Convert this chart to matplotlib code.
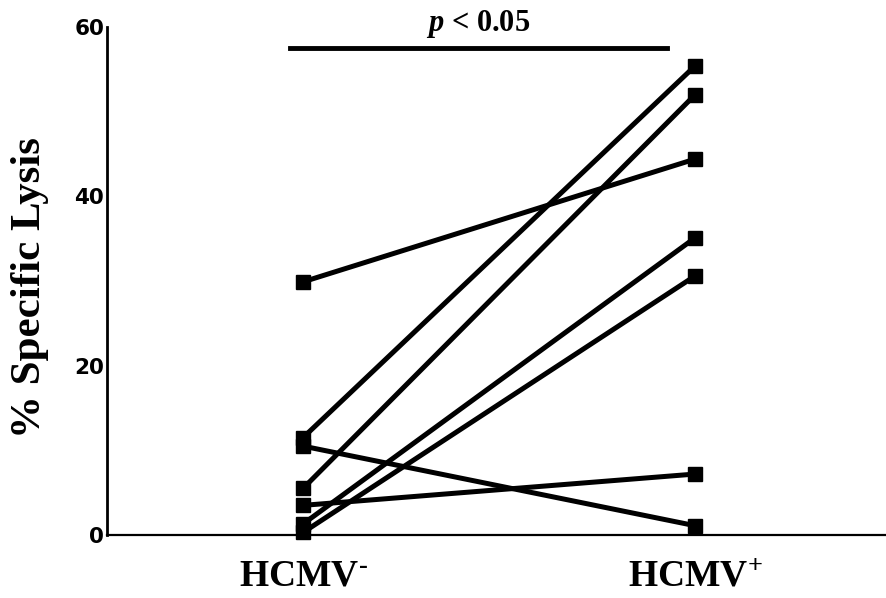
import matplotlib.pyplot as plt

plt.rcParams['mathtext.fontset'] = 'custom'
plt.rcParams['mathtext.rm'] = 'Liberation Serif:bold'
plt.rcParams['mathtext.bf'] = 'Liberation Serif:bold'
plt.rcParams['mathtext.it'] = 'Liberation Serif:italic:bold'

# % specific lysis per donor, paired HCMV- vs HCMV+
groups = [r'HCMV$^{\text{-}}$', 'HCMV$^{+}$']
lysis_neg = [29.9, 11.5, 10.5, 5.5, 3.5, 1.3, 0.3]
lysis_pos = [44.4, 55.4, 1.1, 52.0, 7.2, 35.1, 30.6]
yticks = [0, 20, 40, 60]

fig = plt.figure(figsize=(8.86, 5.98), dpi=100)
ax = fig.add_axes([107/886, 1 - 535/598, 1 - 107/886, (535 - 27)/598])

for a, b in zip(lysis_neg, lysis_pos):
    ax.plot([0, 1], [a, b], color='black', lw=3.6, marker='s', ms=9.5,
            solid_capstyle='butt', clip_on=False, zorder=3)

ax.set_xlim(-0.5, 1.487)
ax.set_ylim(0, 60)
ax.set_xticks([0, 1])
ax.set_xticklabels(groups, fontsize=27, fontfamily='Liberation Serif', fontweight='bold')
ax.set_yticks(yticks)
ax.set_yticklabels([str(t) for t in yticks], fontsize=15.5, fontfamily='DejaVu Sans',
                   fontweight='bold')
ax.tick_params(axis='y', length=0, pad=2)
ax.tick_params(axis='x', length=0, pad=17)

# y label placed in figure coords, left of the tick labels
fig.text(30/886, 1 - 288/598, '% Specific Lysis', rotation=90, ha='center', va='center',
         fontsize=31, fontfamily='Liberation Serif', fontweight='bold')

for s in ['top', 'right']:
    ax.spines[s].set_visible(False)
ax.spines['left'].set_linewidth(2)
ax.spines['bottom'].set_linewidth(1.6)

# significance bar
ax.plot([-0.033, 0.929], [57.5, 57.5], color='black', lw=3.5, clip_on=False)
ax.text(0.446, 60.3, '$p$ < 0.05', ha='center', va='center', fontsize=22,
        fontfamily='Liberation Serif', fontweight='bold', clip_on=False)

fig.savefig('out.png', dpi=100)
